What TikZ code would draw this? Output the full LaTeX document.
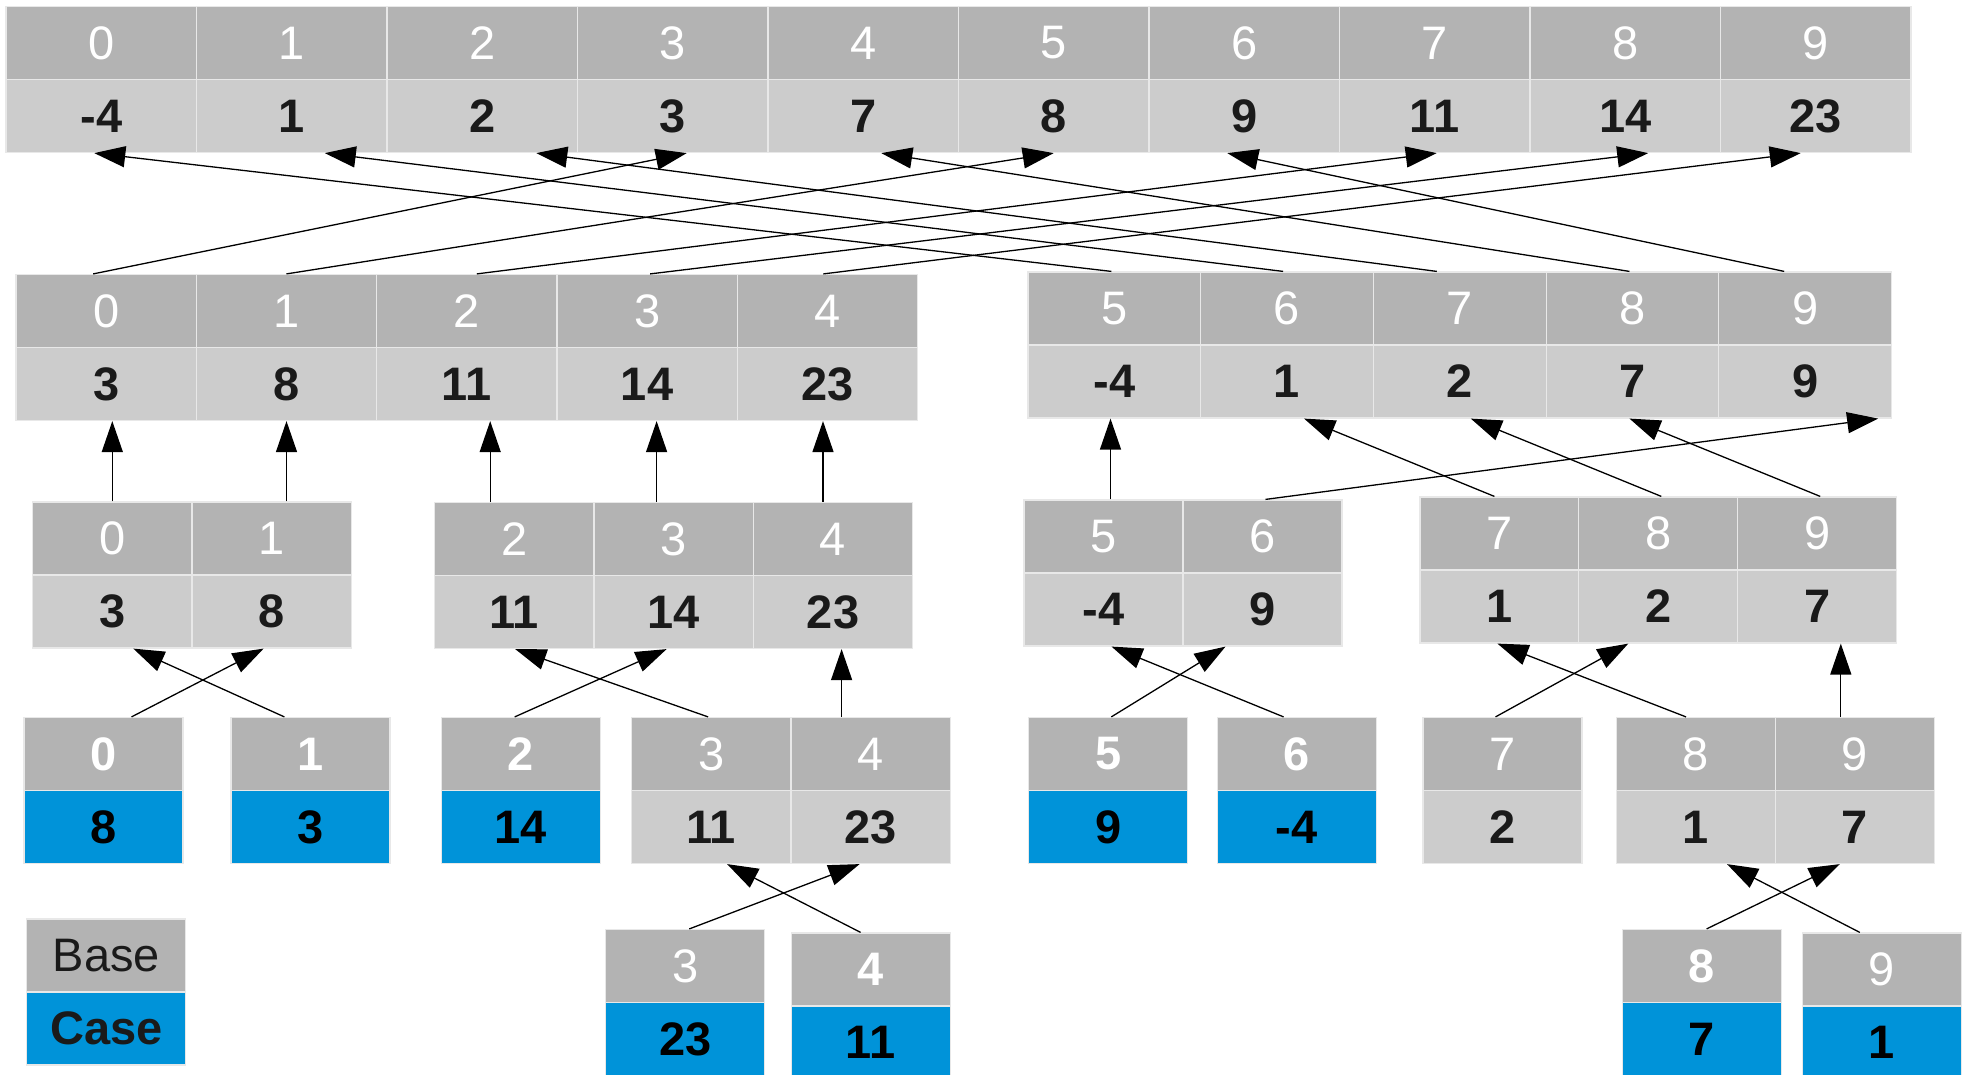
\documentclass[tikz,border=0pt]{standalone}
\usepackage{fontspec}
\setmainfont{Liberation Sans}
\usepackage{xcolor}
\usepackage{tikz}
\usetikzlibrary{arrows.meta,positioning,calc}

\definecolor{headgray}{HTML}{B3B3B3}
\definecolor{valgray}{HTML}{CCCCCC}
\definecolor{caseblue}{HTML}{0093D9}
\definecolor{inkdark}{HTML}{1A1A1A}
\definecolor{cellline}{HTML}{E8E8E8}

\begin{document}
\begin{tikzpicture}[x=1pt, y=-1pt,
    cellbox/.style={rectangle, draw=cellline, line width=1.2pt, minimum width=159pt, minimum height=73pt, inner sep=0pt, text centered},
    idxcell/.style={cellbox, fill=headgray, text=white, font=\fontsize{47}{50}\selectfont},
    idxbold/.style={idxcell, font=\fontsize{47}{50}\selectfont\bfseries},
    valcell/.style={cellbox, fill=valgray, text=inkdark, font=\fontsize{47}{50}\selectfont\bfseries},
    casecell/.style={valcell, fill=caseblue, text=black},
    arrow/.style={-{Triangle[length=31pt, width=21pt]}, line width=1.3pt}]
  \useasboundingbox (0,0) rectangle (1971,1074);

  % sorted result
  \foreach \v [count=\i from 0] in {-4,1,2,3,7,8,9,11,14,23} {
    \node[idxcell, minimum width=190.5pt] (top\i)  at ({101.25+190.5*\i}, 43)  {\i};
    \node[valcell, minimum width=190.5pt] (topv\i) at ({101.25+190.5*\i}, 116) {\v};
  }

  % merged halves
  \foreach \v [count=\i from 0] in {3,8,11,14,23} {
    \node[idxcell, minimum width=180.3pt] (mrg\i)  at ({106.2+180.3*\i}, 311) {\i};
    \node[valcell, minimum width=180.3pt] (mrgv\i) at ({106.2+180.3*\i}, 384) {\v};
  }
  \foreach \i/\v in {5/-4,6/1,7/2,8/7,9/9} {
    \node[idxcell, minimum width=172.7pt] (mrg\i)  at ({1114.35+172.7*(\i-5)}, 308.5) {\i};
    \node[valcell, minimum width=172.7pt] (mrgv\i) at ({1114.35+172.7*(\i-5)}, 381.5) {\v};
  }

  % merged pieces
  \node[idxcell] (sub0) at (112.3,538.5) {0};   \node[valcell] (subv0) at (112.3,611.5) {3};
  \node[idxcell] (sub1) at (271.6,538.5) {1};   \node[valcell] (subv1) at (271.6,611.5) {8};
  \node[idxcell] (sub2) at (514.2,539) {2};     \node[valcell] (subv2) at (514.2,612) {11};
  \node[idxcell] (sub3) at (673.6,539) {3};     \node[valcell] (subv3) at (673.6,612) {14};
  \node[idxcell] (sub4) at (833,539) {4};       \node[valcell] (subv4) at (833,612) {23};
  \node[idxcell] (sub5) at (1103.5,536.5) {5};  \node[valcell] (subv5) at (1103.5,609.5) {-4};
  \node[idxcell] (sub6) at (1262.5,536.5) {6};  \node[valcell] (subv6) at (1262.5,609.5) {9};
  \node[idxcell] (sub7) at (1499.4,533.5) {7};  \node[valcell] (subv7) at (1499.4,606.5) {1};
  \node[idxcell] (sub8) at (1658.3,533.5) {8};  \node[valcell] (subv8) at (1658.3,606.5) {2};
  \node[idxcell] (sub9) at (1817.2,533.5) {9};  \node[valcell] (subv9) at (1817.2,606.5) {7};

  % base cases
  \node[idxbold] (base0) at (103.5,754) {0};   \node[casecell] (basev0) at (103.5,827) {8};
  \node[idxbold] (base1) at (310.4,754) {1};   \node[casecell] (basev1) at (310.4,827) {3};
  \node[idxbold] (base2) at (520.7,754) {2};   \node[casecell] (basev2) at (520.7,827) {14};
  \node[idxcell] (base3) at (711.1,754) {3};   \node[valcell]  (basev3) at (711.1,827) {11};
  \node[idxcell] (base4) at (870.6,754) {4};   \node[valcell]  (basev4) at (870.6,827) {23};
  \node[idxbold] (base5) at (1108.3,754) {5};  \node[casecell] (basev5) at (1108.3,827) {9};
  \node[idxbold] (base6) at (1296.6,754) {6};  \node[casecell] (basev6) at (1296.6,827) {-4};
  \node[idxcell] (base7) at (1502.5,754) {7};  \node[valcell]  (basev7) at (1502.5,827) {2};
  \node[idxcell] (base8) at (1696,754) {8};    \node[valcell]  (basev8) at (1696,827) {1};
  \node[idxcell] (base9) at (1854.8,754) {9};  \node[valcell]  (basev9) at (1854.8,827) {7};

  \node[idxcell] (leaf3) at (685.3,966) {3};   \node[casecell] (leafv3) at (685.3,1039) {23};
  \node[idxbold] (leaf4) at (870.6,969.5) {4}; \node[casecell] (leafv4) at (870.6,1042.5) {11};
  \node[idxbold] (leaf8) at (1701.6,966) {8};  \node[casecell] (leafv8) at (1701.6,1039) {7};
  \node[idxcell] (leaf9) at (1881.8,969.5) {9};\node[casecell] (leafv9) at (1881.8,1042.5) {1};

  % legend
  \node[idxcell, text=inkdark] (keybase) at (106.3,955.5) {Base};
  \node[casecell, text=inkdark] (keycase) at (106.3,1028.5) {Case};

  % last merge
  \draw[arrow] ([xshift=-13pt]mrg0.north) -- ([xshift=14pt]topv3.south);
  \draw[arrow] (mrg1.north) -- (topv5.south);
  \draw[arrow] ([xshift=10pt]mrg2.north) -- ([xshift=2pt]topv7.south);
  \draw[arrow] ([xshift=3pt]mrg3.north) -- ([xshift=23pt]topv8.south);
  \draw[arrow] ([xshift=-4pt]mrg4.north) -- ([xshift=-15pt]topv9.south);
  \draw[arrow] ([xshift=-3pt]mrg5.north) -- ([xshift=-7pt]topv0.south);
  \draw[arrow] ([xshift=-4pt]mrg6.north) -- ([xshift=33pt]topv1.south);
  \draw[arrow] ([xshift=-23pt]mrg7.north) -- ([xshift=54pt]topv2.south);
  \draw[arrow] ([xshift=-3pt]mrg8.north) -- ([xshift=18pt]topv4.south);
  \draw[arrow] ([xshift=-21pt]mrg9.north) -- ([xshift=-17pt]topv6.south);

  % second merge
  \draw[arrow] (sub0.north) -- (sub0.north |- mrgv0.south);
  \draw[arrow] (mrgv1.south |- sub1.north) -- (mrgv1.south);
  \draw[arrow] ([xshift=-24pt]sub2.north) -- ([xshift=-24pt]sub2.north |- mrgv2.south);
  \draw[arrow] ([xshift=-17pt]sub3.north) -- ([xshift=-17pt]sub3.north |- mrgv3.south);
  \draw[arrow] ([xshift=-10pt]sub4.north) -- ([xshift=-10pt]sub4.north |- mrgv4.south);
  \draw[arrow] ([xshift=7pt]sub5.north) -- ([xshift=7pt]sub5.north |- mrgv5.south);
  \draw[arrow] ([xshift=3pt]sub6.north) -- ([xshift=73pt]mrgv9.south);
  \draw[arrow] ([xshift=-5pt]sub7.north) -- ([xshift=17pt]mrgv6.south);
  \draw[arrow] ([xshift=3pt]sub8.north) -- ([xshift=11pt]mrgv7.south);
  \draw[arrow] ([xshift=3pt]sub9.north) -- ([xshift=-3pt]mrgv8.south);

  % first merge
  \draw[arrow] ([xshift=28pt]base0.north) -- ([xshift=-8pt]subv1.south);
  \draw[arrow] ([xshift=-26pt]base1.north) -- ([xshift=21pt]subv0.south);
  \draw[arrow] ([xshift=-6pt]base2.north) -- ([xshift=-7pt]subv3.south);
  \draw[arrow] ([xshift=-3pt]base3.north) -- ([xshift=1pt]subv2.south);
  \draw[arrow] ([xshift=-29pt]base4.north) -- ([xshift=-29pt]base4.north |- subv4.south);
  \draw[arrow] ([xshift=3pt]base5.north) -- ([xshift=-37pt]subv6.south);
  \draw[arrow] ([xshift=-13pt]base6.north) -- ([xshift=8pt]subv5.south);
  \draw[arrow] ([xshift=-7pt]base7.north) -- ([xshift=-30pt]subv8.south);
  \draw[arrow] ([xshift=-10pt]base8.north) -- ([xshift=-2pt]subv7.south);
  \draw[arrow] ([xshift=-14pt]base9.north) -- ([xshift=-14pt]base9.north |- subv9.south);

  % pairs
  \draw[arrow] ([xshift=4pt]leaf3.north) -- ([xshift=-11pt]basev4.south);
  \draw[arrow] ([xshift=-10pt]leaf4.north) -- ([xshift=16pt]basev3.south);
  \draw[arrow] ([xshift=5pt]leaf8.north) -- ([xshift=-15pt]basev9.south);
  \draw[arrow] ([xshift=-22pt]leaf9.north) -- ([xshift=31pt]basev8.south);
\end{tikzpicture}
\end{document}
